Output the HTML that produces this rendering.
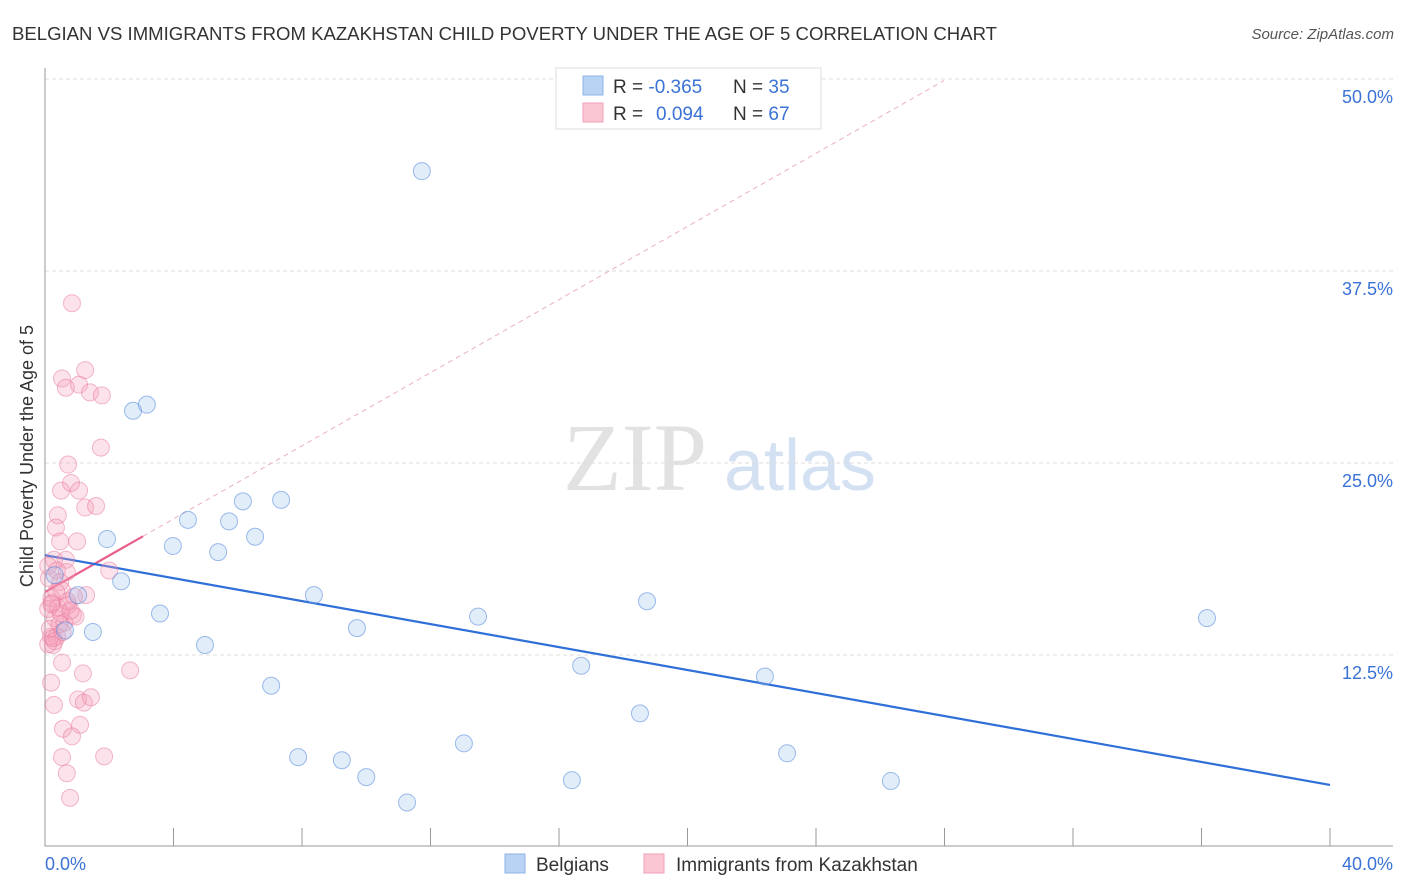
<!DOCTYPE html>
<html><head><meta charset="utf-8"><style>
body{margin:0;background:#fff;font-family:"Liberation Sans",sans-serif;}
#wrap{position:relative;width:1406px;height:892px;overflow:hidden;}
</style></head><body>
<div id="wrap">
<svg id="svg" width="1406" height="892" xmlns="http://www.w3.org/2000/svg">
<text x="12" y="40" font-size="18" fill="#333" textLength="985" lengthAdjust="spacingAndGlyphs">BELGIAN VS IMMIGRANTS FROM KAZAKHSTAN CHILD POVERTY UNDER THE AGE OF 5 CORRELATION CHART</text>
<text x="1394" y="39" font-size="15" fill="#555" text-anchor="end" font-style="italic">Source: ZipAtlas.com</text>
<text x="33" y="456" font-size="18" fill="#333" text-anchor="middle" transform="rotate(-90 33 456)">Child Poverty Under the Age of 5</text>
<text x="635" y="490" font-size="96" fill="#e2e2e2" font-family="Liberation Serif,serif" text-anchor="middle">ZIP</text>
<text x="800" y="490" font-size="72" fill="#d3e1f3" text-anchor="middle">atlas</text>
<g id="grid"></g><g id="axes"></g><g id="lines"></g><g id="pts"></g>
<g>
<rect x="556" y="68" width="265" height="61" fill="#fff" stroke="#ddd"/>
<rect x="583" y="76" width="20" height="19" fill="#b9d3f5" stroke="#8fb3e6"/>
<rect x="583" y="103" width="20" height="19" fill="#fac6d4" stroke="#f0a0b8"/>
<text x="613" y="93" font-size="19" fill="#333">R = <tspan fill="#3a72d6">-0.365</tspan><tspan x="733">N = </tspan><tspan fill="#3a72d6">35</tspan></text>
<text x="613" y="120" font-size="19" fill="#333">R = <tspan x="656" fill="#3a72d6">0.094</tspan><tspan x="733">N = </tspan><tspan fill="#3a72d6">67</tspan></text>
</g>
<g>
<rect x="505" y="854" width="20" height="19" fill="#b9d3f5" stroke="#8fb3e6"/>
<text x="536" y="871" font-size="19" fill="#333">Belgians</text>
<rect x="644" y="854" width="20" height="19" fill="#fac6d4" stroke="#f0a0b8"/>
<text x="676" y="871" font-size="19" fill="#333">Immigrants from Kazakhstan</text>
</g>
</svg></div>
<script>
const yTicks=[12.5,25.0,37.5,50.0];
const yTickLabels=["12.5%","25.0%","37.5%","50.0%"];
const xTickLabels=["0.0%","40.0%"];
const blueX=[11.73,2.74,3.17,1.93,2.37,1.03,0.62,1.49,3.58,3.98,4.45,4.98,5.39,5.73,6.16,6.54,7.35,7.04,7.88,8.37,9.24,9.71,10.0,11.27,13.04,13.48,16.4,16.69,18.52,18.74,22.41,23.1,26.33,36.17,0.3];
const blueY=[44.0,28.4,28.8,20.05,17.3,16.4,14.1,14.0,15.2,19.6,21.3,13.15,19.2,21.2,22.5,20.2,22.6,10.5,5.85,16.4,5.65,14.25,4.55,2.9,6.75,15.0,4.35,11.8,8.7,16.0,11.1,6.1,4.3,14.9,17.7];
const pinkX=[0.84,0.53,0.65,1.06,1.25,1.4,1.77,1.74,0.72,0.5,0.81,1.06,1.25,1.59,0.4,0.34,0.47,1.0,0.28,0.65,0.37,0.68,2.0,0.47,0.53,0.22,0.72,1.28,0.31,0.87,0.19,0.37,0.25,0.53,1.18,2.65,0.19,1.03,1.21,1.43,0.28,1.09,0.56,0.84,1.84,0.53,0.68,0.78,0.1,0.2,0.15,0.4,0.6,0.9,0.3,0.1,0.5,0.7,0.25,0.95,0.12,0.45,0.35,0.8,0.2,0.55,0.1];
const pinkY=[35.4,30.5,29.9,30.1,31.05,29.6,29.4,26.0,24.9,23.2,23.7,23.2,22.1,22.2,21.6,20.8,19.9,19.9,18.7,18.7,18.0,17.9,18.0,17.25,16.7,15.9,15.75,16.4,14.9,15.1,13.7,13.7,13.15,12.0,11.3,11.5,10.7,9.6,9.4,9.75,9.25,7.95,7.7,7.2,5.9,5.85,4.8,3.2,15.5,16.2,14.2,15.6,14.6,16.3,13.4,13.2,15.2,16.0,13.6,15.0,17.5,14.5,16.6,15.4,15.8,14.0,18.3];
const blueLine=[19.0,-0.374]; // intercept, slope
const pinkLine=[16.6,1.19];
const pinkSolidEnd=3.05;
const X=v=>45+v*32.125, Y=v=>847-v*15.36;
const NS="http://www.w3.org/2000/svg";
function mk(p,t,a){const e=document.createElementNS(NS,t);for(const k in a)e.setAttribute(k,a[k]);document.getElementById(p).appendChild(e);return e;}
yTicks.forEach((t,i)=>{
 const g=mk('grid','line',{x1:45,x2:1393,y1:Y(t),y2:Y(t),stroke:'#ddd','stroke-dasharray':'4,3'});
 
 
 const l=mk('grid','text',{x:1393,y:Y(t)+24,'font-size':18,fill:'#3a72d6','text-anchor':'end'});
 l.textContent=yTickLabels[i];
 
 
});
const ax=mk('axes','path',{d:'M45 68V846H1393',stroke:'#999',fill:'none'});


for(let i=0;i<=10;i++){const t=mk('axes','line',{x1:X(i*4),x2:X(i*4),y1:828,y2:846,stroke:'#999'});
 
 }
[[0,'start',45],[40,'end',1393]].forEach((d,i)=>{const l=mk('axes','text',{x:d[2],y:870,'font-size':18,fill:'#3a72d6','text-anchor':d[1]});
 l.textContent=xTickLabels[i];
 
 });
function pts(xs,ys,fill,stroke,name){xs.forEach((x,i)=>{const c=mk('pts','circle',{cx:X(x),cy:Y(ys[i]),r:8.5,fill:fill,stroke:stroke,'stroke-width':1});
 
 });}
pts(pinkX,pinkY,'rgba(246,160,185,0.3)','rgba(232,120,155,0.5)','kazakhstan-point');
pts(blueX,blueY,'rgba(160,195,240,0.3)','rgba(80,135,220,0.55)','belgian-point');
const yd=49.9;
const xd=(yd-pinkLine[0])/pinkLine[1];
const pd=mk('lines','line',{x1:X(pinkSolidEnd),y1:Y(pinkLine[0]+pinkLine[1]*pinkSolidEnd),x2:X(xd),y2:Y(yd),stroke:'#eab0c0','stroke-dasharray':'5,4','stroke-width':1});


const ps=mk('lines','line',{x1:X(0),y1:Y(pinkLine[0]),x2:X(pinkSolidEnd),y2:Y(pinkLine[0]+pinkLine[1]*pinkSolidEnd),stroke:'#e8608a','stroke-width':2.2});


const bl=mk('lines','line',{x1:X(0),y1:Y(blueLine[0]),x2:X(40),y2:Y(blueLine[0]+blueLine[1]*40),stroke:'#2f6fd8','stroke-width':2.2});


</script>
</body></html>
